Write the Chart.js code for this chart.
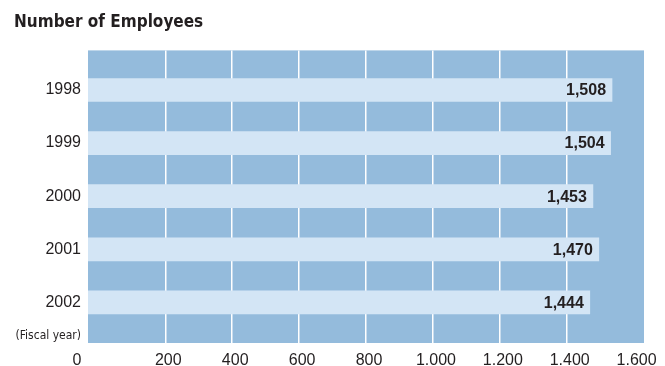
<!DOCTYPE html>
<html>
<head>
<meta charset="utf-8">
<script src="https://cdn.jsdelivr.net/npm/chart.js@4/dist/chart.umd.min.js"></script>
<style>
  html, body { margin: 0; padding: 0; background: #fff; }
</style>
</head>
<body>
<canvas id="chart" width="665" height="366"></canvas>
<script>
// data
const years = ['1998', '1999', '2000', '2001', '2002'];
const employees = [1508, 1504, 1453, 1470, 1444];
const xTickValues = [0, 200, 400, 600, 800, 1000, 1200, 1400, 1600];
const xTickLabels = ['0', '200', '400', '600', '800', '1.000', '1.200', '1.400', '1.600'];
const yNote = '(Fiscal year)';

const ink = '#231f20';
const narrow = '"DejaVu Sans Condensed", "Liberation Sans", Arial, sans-serif';
const regular = '"Liberation Sans", Arial, sans-serif';

// blue plot background
const plotBg = {
  id: 'plotBg',
  beforeDraw(chart) {
    const { ctx, chartArea: a } = chart;
    ctx.save();
    ctx.fillStyle = '#94bbdc';
    ctx.fillRect(a.left, a.top, a.right - a.left, a.bottom - a.top);
    ctx.restore();
  }
};

// numbers at the end of each bar
const valueLabels = {
  id: 'valueLabels',
  afterDatasetsDraw(chart) {
    const { ctx } = chart;
    const meta = chart.getDatasetMeta(0);
    ctx.save();
    ctx.font = 'bold 16px ' + regular;
    ctx.fillStyle = ink;
    ctx.textAlign = 'right';
    ctx.textBaseline = 'middle';
    meta.data.forEach((bar, i) => {
      ctx.fillText(employees[i].toLocaleString('en-US'), bar.x - 6, bar.y + 1);
    });
    ctx.restore();
  }
};

new Chart(document.getElementById('chart').getContext('2d'), {
  type: 'bar',
  data: {
    datasets: [{
      data: employees.map((v, i) => ({ x: v, y: i + 1 })),
      backgroundColor: '#d3e5f5',
      borderWidth: 0,
      barThickness: 23,
      xAxisID: 'x',
      yAxisID: 'y'
    }]
  },
  options: {
    indexAxis: 'y',
    responsive: false,
    animation: false,
    layout: { padding: { left: 14, right: 21, top: 0, bottom: 0 } },
    plugins: {
      legend: { display: false },
      tooltip: { enabled: false },
      title: {
        display: true,
        text: 'Number of Employees',
        align: 'start',
        color: ink,
        font: { family: narrow, size: 17, weight: 'bold' },
        padding: { top: 12, bottom: 18 }
      }
    },
    scales: {
      // bar length axis
      x: { type: 'linear', min: 0, max: 1600, display: false },
      // visible ticks and gridlines
      x2: {
        type: 'linear',
        position: 'bottom',
        min: -31,
        max: 1631,
        afterBuildTicks: axis => {
          axis.ticks = xTickValues.map(v => ({ value: v === 0 ? -73 : v }));
        },
        afterFit: axis => { axis.height = 23; },
        ticks: {
          callback: (v, i) => xTickLabels[i],
          color: ink,
          font: { family: regular, size: 16 },
          padding: 8,
          labelOffset: 3,
          maxRotation: 0,
          autoSkip: false
        },
        grid: {
          color: c => (c.index > 0 && c.index < xTickValues.length - 1) ? '#ffffff' : 'rgba(0,0,0,0)',
          lineWidth: 1.5,
          drawTicks: false
        },
        border: { display: false }
      },
      y: {
        type: 'linear',
        reverse: true,
        offset: false,
        min: 0.255,
        max: 5.764,
        afterBuildTicks: axis => {
          axis.ticks = years.map((y, i) => ({ value: i + 1 })).concat([{ value: 5.632 }]);
        },
        afterFit: axis => { axis.width = 74; },
        ticks: {
          callback: (v, i) => i < years.length ? years[i] : yNote,
          color: ink,
          font: c => c.index < years.length
            ? { family: regular, size: 16 }
            : { family: narrow, size: 12 },
          padding: 7
        },
        grid: { display: false, drawTicks: false, offset: false },
        border: { display: false }
      }
    }
  },
  plugins: [plotBg, valueLabels]
});
</script>
</body>
</html>
